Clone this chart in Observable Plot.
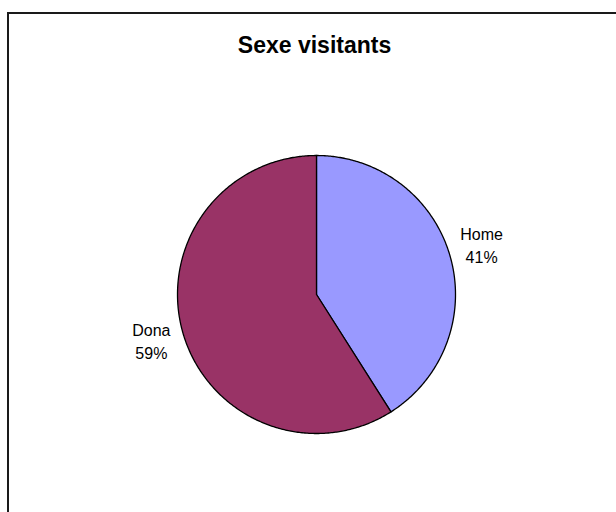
<!DOCTYPE html>
<html>
<head>
<meta charset="utf-8">
<script src="https://cdn.jsdelivr.net/npm/d3@7"></script>
<script src="https://cdn.jsdelivr.net/npm/@observablehq/plot@0.6"></script>
<style>
  html, body { margin: 0; padding: 0; background: #fff; }
  #wrap { position: relative; width: 616px; height: 512px; overflow: hidden; background: #fff; }
  #border { position: absolute; left: 7px; top: 12px; width: 700px; height: 600px; border: 2px solid #1a1a1a; box-sizing: border-box; pointer-events: none; }
  #chart svg { display: block; }
</style>
</head>
<body>
<div id="wrap">
  <div id="chart"></div>
  <div id="border"></div>
</div>
<script>
// Data
const title = "Sexe visitants";
const labels = ["Home", "Dona"];
const values = [41, 59];
const colors = ["#9999FF", "#993366"];

// Layout
const W = 616, H = 512;
const cx = 316, cy = 294, R = 139;

const pie = d3.pie().sort(null).value(d => d.value);
const arcs = pie(labels.map((l, i) => ({label: l, value: values[i]})));
const total = d3.sum(values);

// Slice outlines (angles from 12 o'clock, clockwise) in unit-radius coordinates
const pts = [];
for (const a of arcs) {
  const n = Math.max(2, Math.ceil((a.endAngle - a.startAngle) / 0.01));
  pts.push({label: a.data.label, x: 0, y: 0});
  for (let k = 0; k <= n; k++) {
    const t = a.startAngle + (a.endAngle - a.startAngle) * k / n;
    pts.push({label: a.data.label, x: Math.sin(t), y: Math.cos(t)});
  }
  pts.push({label: a.data.label, x: 0, y: 0});
}

const labelR = 1.237;
const labelData = arcs.map(a => {
  const m = (a.startAngle + a.endAngle) / 2;
  return {
    x: labelR * Math.sin(m),
    y: labelR * Math.cos(m),
    text: a.data.label + "\n" + Math.round(a.data.value / total * 100) + "%"
  };
});

const plot = Plot.plot({
  width: W,
  height: H,
  margin: 0,
  style: {fontFamily: "'Liberation Sans', Arial, sans-serif", background: "transparent"},
  x: {domain: [-cx / R, (W - cx) / R], axis: null},
  y: {domain: [-(H - cy) / R, cy / R], axis: null},
  color: {domain: labels, range: colors},
  marks: [
    Plot.line(pts, {x: "x", y: "y", z: "label", fill: "label", stroke: "black", strokeWidth: 1.3, strokeLinejoin: "round", curve: "linear"}),
    Plot.text(labelData, {x: "x", y: "y", text: "text", fontSize: 16, fill: "#000", lineHeight: 1.44, lineAnchor: "middle", textAnchor: "middle", dy: -2}),
    Plot.text([title], {frameAnchor: "top", dx: 6, dy: 45, lineAnchor: "middle", fontSize: 23, fontWeight: "bold", fill: "#000"})
  ]
});
document.getElementById("chart").appendChild(plot);
</script>
</body>
</html>
